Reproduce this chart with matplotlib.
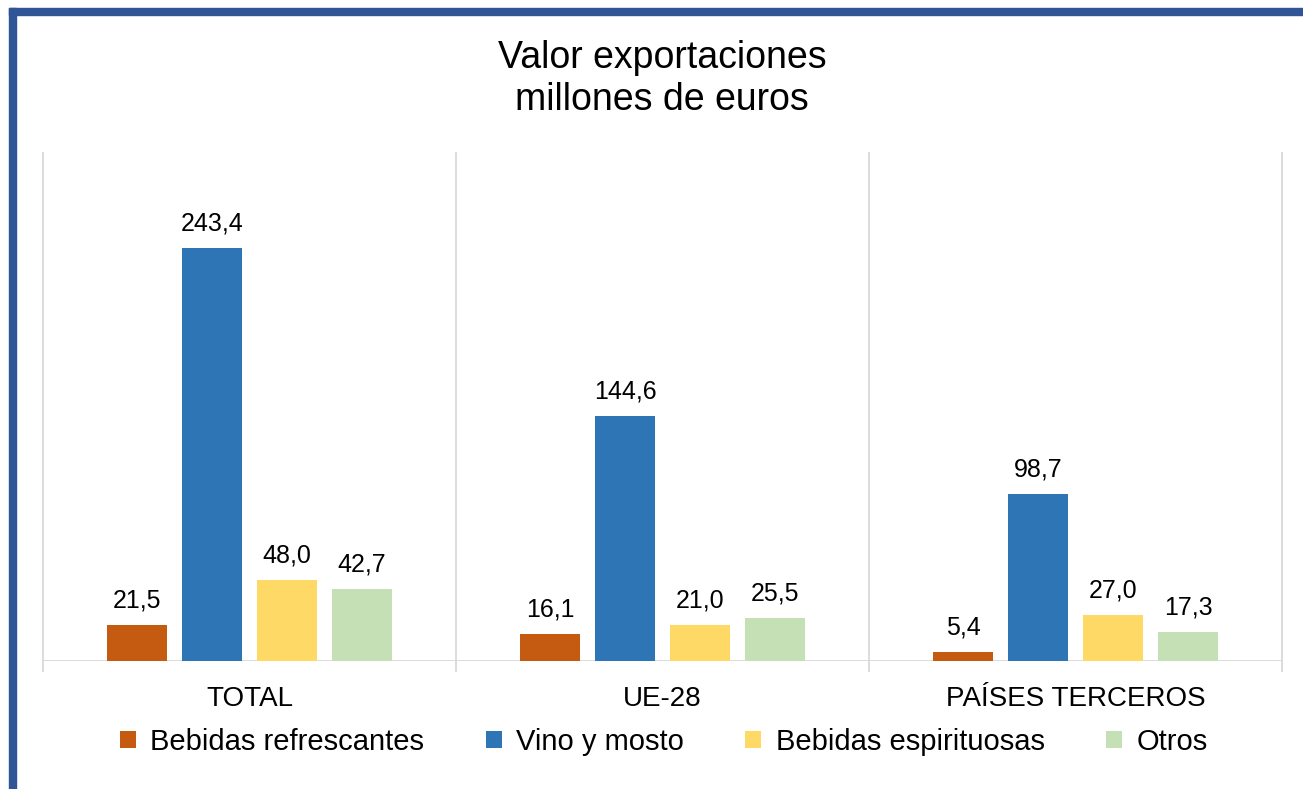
import numpy as np
import matplotlib.pyplot as plt
from matplotlib.patches import Rectangle

plt.rcParams['font.family'] = ['Liberation Sans', 'DejaVu Sans']

categories = ['TOTAL', 'UE-28', 'PAÍSES TERCEROS']
series_names = ['Bebidas refrescantes', 'Vino y mosto', 'Bebidas espirituosas', 'Otros']
refrescantes = [21.5, 16.1, 5.4]
vino = [243.4, 144.6, 98.7]
espirituosas = [48.0, 21.0, 27.0]
otros = [42.7, 25.5, 17.3]
colors = ['#C55A11', '#2E75B6', '#FFD966', '#C5E0B4']

W, H = 1303, 789
fig = plt.figure(figsize=(W / 100, H / 100), dpi=100)

# blue frame along top and left edge
fig.patches.append(Rectangle((9 / W, 1 - 15 / H), 1 - 9 / W, 7 / H,
                             transform=fig.transFigure, color='#2F5597', zorder=0))
fig.patches.append(Rectangle((9 / W, 0), 7 / W, 1 - 8 / H,
                             transform=fig.transFigure, color='#2F5597', zorder=0))

ax = fig.add_axes([43 / W, 1 - 661 / H, (1282 - 43) / W, (661 - 152) / H])

x = np.arange(len(categories))
step = 0.1816
width = 0.143
all_series = [refrescantes, vino, espirituosas, otros]
handles = []
for i, (vals, name, c) in enumerate(zip(all_series, series_names, colors)):
    bars = ax.bar(x + (i - 1.5) * step, vals, width, color=c, label=name, zorder=2)
    handles.append(bars)
    for b, v in zip(bars, vals):
        ax.annotate(f'{v:.1f}'.replace('.', ','),
                    xy=(b.get_x() + b.get_width() / 2, v),
                    xytext=(0, 9), textcoords='offset points',
                    ha='center', va='bottom', fontsize=18, color='#000000')

ax.set_xlim(-0.5, 2.5)
ax.set_ylim(0, 300)
for s in ax.spines.values():
    s.set_visible(False)
ax.set_yticks([])
ax.set_xticks(x)
ax.set_xticklabels(categories, fontsize=20)
ax.tick_params(axis='x', length=0, pad=18)

# category separators and baseline
ax.vlines([-0.5, 0.5, 1.5, 2.5], -6.5, 300, colors='#D9D9D9', linewidth=1.3,
          clip_on=False, zorder=1)
ax.hlines(0, -0.5, 2.5, colors='#D9D9D9', linewidth=1.3, zorder=1)

fig.text(662 / W, 1 - 79 / H, 'Valor exportaciones\nmillones de euros',
         ha='center', va='center', fontsize=27, linespacing=1.2)

fig.legend(handles=handles, loc='center', bbox_to_anchor=(664 / W, 1 - 742 / H),
           ncol=4, frameon=False, fontsize=21, handlelength=0.55, handleheight=0.55,
           handletextpad=0.5, columnspacing=2.1)

fig.savefig('out.png', dpi=100)
